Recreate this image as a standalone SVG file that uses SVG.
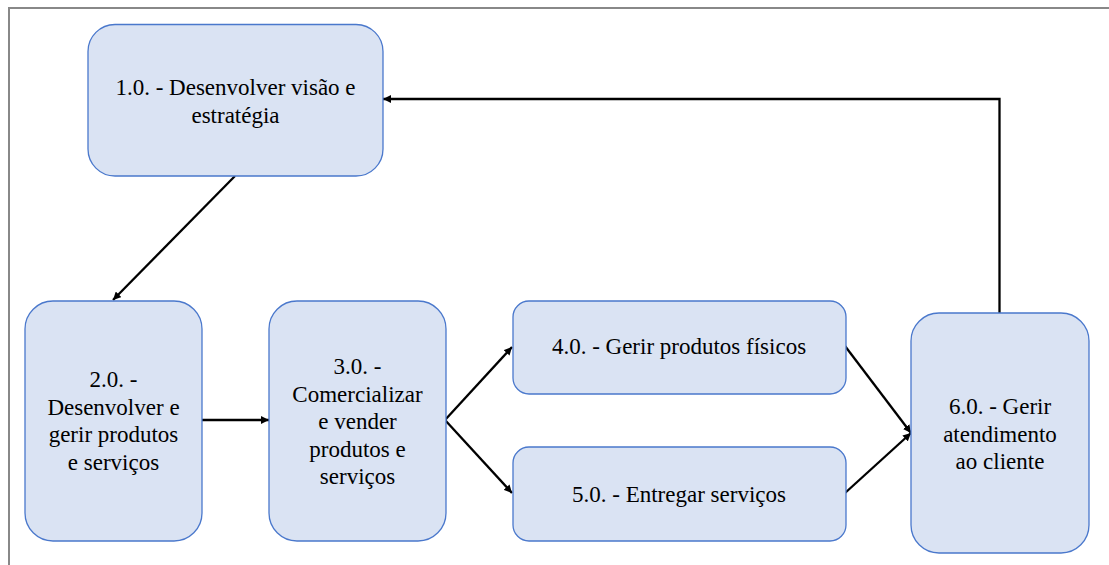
<svg xmlns="http://www.w3.org/2000/svg" width="1109" height="565" viewBox="0 0 1109 565">
<defs>
<style>
.box{fill:#dae3f3;stroke:#4a78cc;stroke-width:1.3}
.t{font-size:23px;fill:#000;text-anchor:middle}
.c{fill:none;stroke:#000;stroke-width:2.3}
.frame{fill:none;stroke:#888;stroke-width:2}
</style>
<marker id="ah" viewBox="0 0 10 10" refX="10" refY="5" markerWidth="8" markerHeight="8" markerUnits="userSpaceOnUse" orient="auto">
<path d="M0,0 L10,5 L0,10 z" fill="#000"/>
</marker>
</defs>
<rect width="1109" height="565" fill="#fff"/>
<path class="frame" d="M9,565 V8 H1109"/>
<g id="connectors">
<path class="c" d="M235,176 L113,300" marker-end="url(#ah)"/>
<path class="c" d="M202,420 L269,420" marker-end="url(#ah)"/>
<path class="c" d="M445,420 L512,347" marker-end="url(#ah)"/>
<path class="c" d="M445,420 L512,493" marker-end="url(#ah)"/>
<path class="c" d="M845,346 L911,433" marker-end="url(#ah)"/>
<path class="c" d="M845,493 L911,433" marker-end="url(#ah)"/>
<path class="c" d="M999.5,313 V99 H383" marker-end="url(#ah)"/>
</g>
<g font-family="Liberation Serif, Times New Roman, Times, Noto Serif, DejaVu Serif, serif">
<g id="n1">
<rect class="box" x="88" y="24.5" width="295" height="151.5" rx="27"/>
<text class="t" x="235.5" y="95">1.0. - Desenvolver visão e</text>
<text class="t" x="235.5" y="122.5">estratégia</text>
</g>
<g id="n2">
<rect class="box" x="25" y="301" width="177" height="240" rx="28"/>
<text class="t" x="113.5" y="387">2.0. -</text>
<text class="t" x="113.5" y="414.5">Desenvolver e</text>
<text class="t" x="113.5" y="442">gerir produtos</text>
<text class="t" x="113.5" y="469.5">e serviços</text>
</g>
<g id="n3">
<rect class="box" x="269" y="301" width="177" height="240" rx="28"/>
<text class="t" x="357.5" y="374">3.0. -</text>
<text class="t" x="357.5" y="401.5">Comercializar</text>
<text class="t" x="357.5" y="429">e vender</text>
<text class="t" x="357.5" y="456.5">produtos e</text>
<text class="t" x="357.5" y="484">serviços</text>
</g>
<g id="n4">
<rect class="box" x="513" y="301" width="333" height="93" rx="16"/>
<text class="t" x="679" y="354">4.0. - Gerir produtos físicos</text>
</g>
<g id="n5">
<rect class="box" x="513" y="447" width="333" height="94" rx="16"/>
<text class="t" x="679" y="502">5.0. - Entregar serviços</text>
</g>
<g id="n6">
<rect class="box" x="911" y="313" width="178" height="240" rx="28"/>
<text class="t" x="1000" y="414">6.0. - Gerir</text>
<text class="t" x="1000" y="441.5">atendimento</text>
<text class="t" x="1000" y="469">ao cliente</text>
</g>
</g>
</svg>
